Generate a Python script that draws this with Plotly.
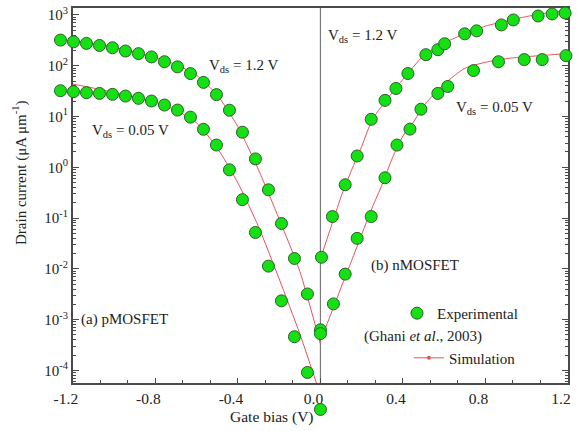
import plotly.graph_objects as go

# ---------------- data ----------------
# pMOSFET experimental gate bias (V)
p_vg = [-1.26, -1.197, -1.134, -1.071, -1.008, -0.945, -0.882, -0.819, -0.756, -0.693,
        -0.63, -0.567, -0.504, -0.441, -0.378, -0.315, -0.252, -0.189, -0.126, -0.063, 0.0]
p_exp_12 = [320, 296, 275, 251, 226, 195, 173, 149, 120, 95, 70, 47, 27, 13.3, 4.9,
            1.46, 0.36, 0.078, 0.016, 0.0032, 6.3e-4]
p_exp_005 = [32.2, 30.8, 29.5, 28.5, 27.3, 25.3, 22.8, 20.2, 16.8, 13.4, 9.7, 5.6, 2.74,
             0.89, 0.23, 0.052, 0.0113, 0.00234, 4.6e-4, 9.1e-5, 1.7e-5]

# nMOSFET experimental
n_vg_12 = [0.005, 0.058, 0.12, 0.178, 0.246, 0.313, 0.366, 0.424, 0.511, 0.569, 0.602,
           0.699, 0.757, 0.877, 0.935, 1.055, 1.123, 1.186]
n_exp_12 = [0.0169, 0.107, 0.453, 1.67, 8.8, 20.8, 35.7, 70.2, 165, 207, 271, 425, 486,
            637, 798, 955, 1046, 1094]
n_vg_005 = [0.0, 0.063, 0.12, 0.178, 0.246, 0.313, 0.371, 0.434, 0.487, 0.569, 0.617,
            0.742, 0.863, 0.988, 1.075, 1.19]
n_exp_005 = [5.3e-4, 0.00204, 0.00787, 0.0398, 0.107, 0.621, 2.74, 5.64, 13.9, 28.5,
             39.1, 80.3, 120, 132, 132, 158]

# simulation curves
p_sim_vg = [-1.2, -1.1, -1.0, -0.9, -0.8, -0.7, -0.6, -0.5, -0.4, -0.3, -0.2, -0.1, 0.0]
p_sim_12 = [320, 272, 231, 186, 143, 105, 64.6, 26.5, 6.28, 0.885, 0.0955, 0.00891, 3.31e-4]
p_sim_005 = [43.4, 36.3, 29.5, 24.0, 19.1, 13.2, 7.48, 2.39, 0.491, 0.0673, 0.00631,
             5.25e-4, 3.24e-5]

n_sim_vg_12 = [0.0, 0.05, 0.1, 0.15, 0.2, 0.25, 0.3, 0.35, 0.4, 0.5, 0.6, 0.7, 0.8, 0.9,
               1.0, 1.1, 1.2]
n_sim_12 = [0.0158, 0.0646, 0.263, 0.861, 2.57, 8.51, 16.6, 30.2, 53.7, 158, 282, 427,
            603, 759, 933, 1096, 1230]
n_sim_vg_005 = [0.0, 0.05, 0.1, 0.15, 0.2, 0.25, 0.3, 0.35, 0.4, 0.45, 0.5, 0.6, 0.7, 0.8,
                0.9, 1.0, 1.1, 1.2]
n_sim_005 = [3.89e-4, 1.26e-3, 4.27e-3, 0.0141, 0.0479, 0.158, 0.468, 1.57, 4.14, 7.67,
             16.2, 43.7, 89.1, 117, 138, 151, 162, 174]

x_tickvals = [-1.2, -0.8, -0.4, 0.0, 0.4, 0.8, 1.2]
x_ticktext = ["-1.2", "-0.8", "-0.4", "0.0", "0.4", "0.8", "1.2"]
y_tickvals = [1e-4, 1e-3, 1e-2, 1e-1, 1, 10, 100, 1000]
y_ticktext = ["10<sup>-4</sup>", "10<sup>-3</sup>", "10<sup>-2</sup>", "10<sup>-1</sup>",
              "10<sup>0</sup>", "10<sup>1</sup>", "10<sup>2</sup>", "10<sup>3</sup>"]

# ---------------- style / geometry ----------------
FONT = "Liberation Serif"
GREEN = "#14e014"
GREEN_EDGE = "#2a602a"
RED = "#e5545a"
AX = "#4a4a4a"
TXT = "#222222"

W, H = 578, 431
ML, MR, MT, MB = 50, 5, 5, 11          # outer plotting region
PL, PR, PT, PB = 73, 571, 5, 383       # axes box in pixels
X0, X1 = -1.2, 1.2
Y0, Y1 = -4.254, 3.137                 # log10 range of the axes box

AW, AH = W - ML - MR, H - MT - MB
def px(xp): return (xp - ML) / AW
def py(yp): return (H - MB - yp) / AH

sx = (PR - PL) / (X1 - X0)
sy = (PB - PT) / (Y1 - Y0)
# wider invisible axes (same scale) so markers beyond the box stay visible
x2_range = [X0 - (PL - ML) / sx, X1 + (W - MR - PR) / sx]
y2_range = [Y0 - (H - MB - PB) / sy, Y1 + (PT - MT) / sy]

fig = go.Figure()

sim_sets = [(p_sim_vg, p_sim_12), (p_sim_vg, p_sim_005),
            (n_sim_vg_12, n_sim_12), (n_sim_vg_005, n_sim_005)]
for xs, ys in sim_sets:
    fig.add_trace(go.Scatter(
        x=xs, y=ys, mode="lines",
        line=dict(color=RED, width=1, shape="spline", smoothing=0.6),
        name="Simulation", showlegend=False, hoverinfo="skip", xaxis="x", yaxis="y"))

# legend entry for the simulation (line with a small dot)
fig.add_trace(go.Scatter(
    x=p_sim_vg[:1], y=p_sim_12[:1], mode="lines+markers",
    line=dict(color=RED, width=1), marker=dict(size=4, color=RED),
    name="Simulation", showlegend=True, legend="legend2", hoverinfo="skip",
    xaxis="x", yaxis="y"))

exp_sets = [(p_vg, p_exp_12), (p_vg, p_exp_005), (n_vg_12, n_exp_12), (n_vg_005, n_exp_005)]
for i, (xs, ys) in enumerate(exp_sets):
    fig.add_trace(go.Scatter(
        x=xs, y=ys, mode="markers", cliponaxis=False,
        marker=dict(size=12, color=GREEN, line=dict(color=GREEN_EDGE, width=1)),
        name="Experimental", showlegend=(i == 0), legend="legend",
        xaxis="x2", yaxis="y2"))

fig.add_shape(type="line", xref="x", yref="y domain", x0=0, x1=0, y0=0, y1=1,
              layer="below", line=dict(color="#7a7a7a", width=1.2))

def ann(text, x, y, size=15, **kw):
    fig.add_annotation(text=text, xref="paper", yref="paper", x=px(x), y=py(y),
                       xanchor="center", yanchor="middle", showarrow=False,
                       font=dict(family=FONT, size=size, color=TXT), **kw)

ann("V<sub>ds</sub> = 1.2 V", 245, 63)
ann("V<sub>ds</sub> = 1.2 V", 364, 33)
ann("V<sub>ds</sub> = 0.05 V", 131, 129)
ann("V<sub>ds</sub> = 0.05 V", 497, 106)
ann("(a) pMOSFET", 125, 319)
ann("(b) nMOSFET", 417, 264)
ann("(Ghani <i>et al</i>., 2003)", 425, 336)
ann("Gate bias (V)", 273, 417, size=15.5)
ann("Drain current (μA μm<sup>-1</sup>)", 20, 171, size=15, textangle=-90)

dom_x = [px(PL), px(PR)]
dom_y = [py(PB), py(PT)]

fig.update_layout(
    xaxis=dict(
        domain=dom_x, anchor="y", range=[X0 - 1e-6, X1 + 1e-6],
        tickmode="array", tickvals=x_tickvals, ticktext=x_ticktext, ticklabelshift=-7,
        ticks="inside", ticklen=6, tickwidth=1, tickcolor=AX,
        minor=dict(ticks="inside", ticklen=4, tick0=-1.2, dtick=0.4 / 3, tickcolor=AX),
        showline=True, linecolor=AX, linewidth=1.5, mirror=True, showgrid=False,
        zeroline=False, tickfont=dict(family=FONT, size=15.5, color=TXT)),
    yaxis=dict(
        domain=dom_y, anchor="x", type="log", range=[Y0, Y1],
        tickmode="array", tickvals=y_tickvals, ticktext=y_ticktext,
        ticks="inside", ticklen=6, tickwidth=1, tickcolor=AX,
        minor=dict(ticks="inside", ticklen=3, dtick="D1", tickcolor=AX),
        showline=True, linecolor=AX, linewidth=1.5, mirror="ticks", showgrid=False,
        zeroline=False, tickfont=dict(family=FONT, size=15, color=TXT)),
    xaxis2=dict(domain=[0, 1], anchor="y2", range=x2_range, visible=False,
                showgrid=False, zeroline=False),
    yaxis2=dict(domain=[0, 1], anchor="x2", type="log", range=y2_range, visible=False,
                showgrid=False, zeroline=False),
    width=W, height=H, margin=dict(l=ML, r=MR, t=MT, b=MB),
    paper_bgcolor="white", plot_bgcolor="rgba(0,0,0,0)",
    font=dict(family=FONT, size=15, color=TXT),
    legend=dict(x=px(399), y=py(296), xanchor="left", yanchor="top",
                bgcolor="rgba(0,0,0,0)", font=dict(family=FONT, size=15, color=TXT)),
    legend2=dict(x=px(411), y=py(341), xanchor="left", yanchor="top",
                 bgcolor="rgba(0,0,0,0)", font=dict(family=FONT, size=15, color=TXT)),
)

fig.write_html("out.html")
